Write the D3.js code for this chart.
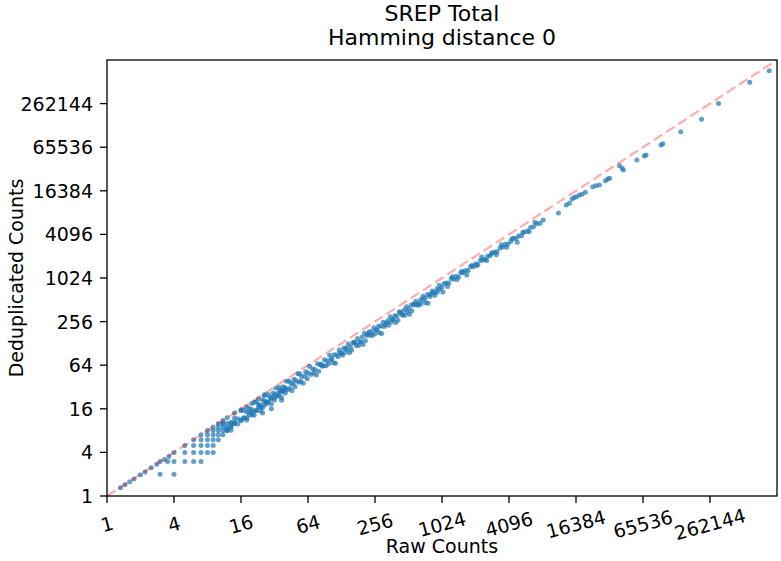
<!DOCTYPE html>
<html>
<head>
<meta charset="utf-8">
<script src="https://cdn.jsdelivr.net/npm/d3@7"></script>
<style>
body { margin: 0; background: #fff; }
text { font-family: "DejaVu Sans", sans-serif; fill: #000; }
</style>
</head>
<body>
<svg id="chart" width="781" height="561"></svg>
<script>
const titleLines = ["SREP Total", "Hamming distance 0"];
const xLabel = "Raw Counts";
const yLabel = "Deduplicated Counts";
const tickValues = [1, 4, 16, 64, 256, 1024, 4096, 16384, 65536, 262144];

// points sitting on the diagonal at the very low end
const lowRaw   = [1.32, 1.45, 1.6, 1.75, 2, 2.2, 2.5, 2.8, 3.3, 3.6];
const lowDedup = [1.3, 1.43, 1.57, 1.72, 1.97, 2.15, 2.45, 2.75, 3.2, 3.5];

// integer grid of small counts
const gridRaw   = [3, 4, 3, 3.5, 4, 5, 6, 7, 4, 5, 6, 7, 8, 9, 5, 6, 7, 8, 9, 6, 7, 8, 9, 10,
                   7, 8, 9, 10, 11, 8, 9, 10, 11, 12, 9, 10, 11, 12, 13, 10, 11, 12, 13, 14];
const gridDedup = [2, 2, 3, 3, 3, 3, 3, 3, 4, 4, 4, 4, 4, 4, 5, 5, 5, 5, 5, 6, 6, 6, 6, 6,
                   7, 7, 7, 7, 7, 8, 8, 8, 8, 8, 9, 9, 9, 9, 9, 10, 10, 10, 10, 10];

// dense band 11 - 68
const smallRaw   = [11, 12, 13, 13, 14, 14, 15, 15, 16, 16, 17, 17, 18, 18, 19, 19, 20, 20, 21, 21,
                    22, 22, 23, 24, 24, 25, 25, 26, 26, 27, 28, 28, 29, 30, 30, 31, 32, 32, 33, 34,
                    35, 35, 36, 37, 38, 38, 40, 40, 41, 42, 43, 44, 45, 46, 47, 48, 49, 50, 52, 53,
                    54, 55, 56, 58, 60, 61, 63, 64, 66, 68,
                    11, 12, 14, 16, 18, 20, 23, 26,
                    12, 13, 14, 16, 17, 18, 19, 20, 22, 23, 24, 26, 27, 28, 30, 32, 34, 36, 38, 40, 21, 25, 37, 30];
const smallDedup = [10, 8.4, 10.4, 8.1, 10.5, 11.9, 9.9, 11.7, 15, 11.2, 15.3, 11.9, 14.4, 11.2, 14.3, 16.2, 13.2, 15.6, 19.7, 14.7,
                    19.8, 15.4, 18.4, 14.9, 18, 21.3, 16.5, 20.3, 24.4, 18.9, 25.2, 19.6, 23.2, 18.6, 22.5, 26.4, 21.1, 25, 31, 23.8,
                    31.5, 24.5, 28.8, 22.9, 28.5, 32.3, 26.4, 31.2, 38.5, 29.4, 38.7, 30.8, 36, 28.5, 35.3, 40.8, 32.3, 39, 48.9, 37.1,
                    48.6, 38.5, 44.8, 36, 45, 51.9, 41.6, 49.9, 62, 47.6,
                    11, 12, 14, 15.5, 17, 19, 22, 25,
                    8, 9, 10, 11, 12, 12, 13, 14, 15, 17, 17, 18, 20, 20, 22, 23, 26, 27, 28, 30, 13, 14, 21, 16];

// band 70 - 1070
const bandRaw   = [70, 74, 78, 82, 86, 90, 95, 100, 105, 110, 116, 122, 128, 134, 140, 147, 154, 162, 170, 178,
                   187, 196, 206, 216, 227, 238, 250, 262, 275, 289, 303, 318, 334, 351, 368, 386, 405, 425, 446, 468,
                   491, 515, 541, 568, 596, 626, 657, 690, 724, 760, 798, 838, 880, 924, 970, 1020, 1070,
                   72, 80, 88, 98, 108, 119, 131, 144, 158, 174, 191, 210, 231, 254, 280, 308, 340, 374, 412, 453,
                   498, 548, 603, 663, 730, 803, 883, 972,
                   76, 84, 93, 103, 113, 125, 137, 151, 166, 182, 200, 220, 242, 267, 294, 324, 357, 393, 432, 475,
                   523, 575, 633, 696, 766, 843, 927, 1045];
const bandDedup = [57, 56, 67, 65, 62, 76, 74, 88, 79, 89, 89, 104, 93, 110, 111, 126, 114, 131, 131, 150,
                   135, 157, 177, 164, 186, 186, 210, 194, 220, 223, 251, 229, 264, 298, 276, 309, 308, 349, 326, 370,
                   412, 381, 433, 437, 489, 451, 512, 573, 543, 608, 606, 679, 642, 730, 815, 755, 856,
                   50, 53, 63, 67, 69, 84, 88, 105, 103, 120, 134, 139, 166, 173, 179, 219, 228, 273, 268, 313,
                   349, 362, 434, 451, 467, 570, 592, 710,
                   47, 66, 63, 76, 68, 95, 96, 95, 133, 120, 124, 172, 165, 198, 176, 246, 250, 248, 346, 314,
                   324, 449, 430, 515, 460, 641, 649, 658];

// 1120 - 8300
const midRaw   = [1120, 1180, 1240, 1300, 1370, 1440, 1510, 1590, 1670, 1760, 1850, 1950, 2050, 2150, 2260, 2380,
                  2500, 2630, 2770, 2900, 3050, 3200, 3400, 3600, 3800, 4000, 4250, 4500, 4750, 5000, 5300, 5600,
                  6000, 6400, 6800, 7300, 7800, 8300,
                  1150, 1270, 1400, 1550, 1710, 1900, 2100, 2330, 2580, 2850, 3150, 3500, 3900, 4350, 4850, 5450,
                  6200, 7000];
const midDedup = [874, 873, 1004, 988, 1082, 1051, 1208, 1208, 1303, 1302, 1480, 1463, 1599, 1570, 1785, 1809,
                  1850, 2051, 2078, 2291, 2349, 2368, 2652, 2736, 3002, 3000, 3273, 3600, 3610, 3900, 3922, 4424,
                  4560, 5120, 5236, 5767, 5850, 6474,
                  782, 1067, 980, 1271, 1129, 1520, 1512, 2004, 1780, 2223, 2142, 2940, 2730, 3567, 3201, 4360,
                  4464, 6020];

// sparse top end
const highRaw   = [11400, 13400, 14300, 15100, 15800, 16600, 17600, 18600, 19900, 23200, 24800, 26600, 30100, 31600,
                   32800, 40300, 42600, 43600, 57800, 67400, 69800, 95200, 98700, 143000, 220000, 313000, 597000, 893000];
const highDedup = [8100, 10400, 11000, 12600, 13200, 13600, 14300, 14700, 15600, 18700, 19200, 19700, 22600, 23800,
                   24400, 36400, 33500, 31700, 43600, 49600, 51100, 70200, 73200, 107000, 160000, 264000, 516000, 746000];

const rawCounts = [].concat(lowRaw, gridRaw, smallRaw, bandRaw, midRaw, highRaw);
const dedupCounts = [].concat(lowDedup, gridDedup, smallDedup, bandDedup, midDedup, highDedup);
const points = rawCounts.map((r, i) => ({raw: r, dedup: dedupCounts[i]}));

const svg = d3.select("#chart");
const pLeft = 107, pRight = 777, pTop = 60, pBottom = 496;

const x = d3.scaleLog().base(2).domain([1, Math.pow(2, 20)]).range([pLeft, pRight]);
const y = d3.scaleLog().base(2).domain([1, Math.pow(2, 20)]).range([pBottom, pTop]);

svg.append("clipPath").attr("id", "plotclip")
    .append("rect")
    .attr("x", pLeft).attr("y", pTop)
    .attr("width", pRight - pLeft).attr("height", pBottom - pTop);

const plot = svg.append("g").attr("clip-path", "url(#plotclip)");

plot.selectAll("circle")
    .data(points)
    .enter()
    .append("circle")
    .attr("cx", d => x(d.raw))
    .attr("cy", d => y(d.dedup))
    .attr("r", 2.5)
    .attr("fill", "#1f77b4")
    .attr("fill-opacity", 0.7);

// y = x reference
plot.append("line")
    .attr("x1", x(1)).attr("y1", y(1))
    .attr("x2", x(Math.pow(2, 20))).attr("y2", y(Math.pow(2, 20)))
    .attr("stroke", "red")
    .attr("stroke-opacity", 0.33)
    .attr("stroke-width", 2.2)
    .attr("stroke-dasharray", "10,4.5");

svg.append("rect")
    .attr("x", pLeft).attr("y", pTop)
    .attr("width", pRight - pLeft).attr("height", pBottom - pTop)
    .attr("fill", "none")
    .attr("stroke", "#000")
    .attr("stroke-width", 1.3);

// x axis
const xt = svg.append("g");
xt.selectAll("line")
    .data(tickValues)
    .enter()
    .append("line")
    .attr("x1", d => x(d)).attr("x2", d => x(d))
    .attr("y1", pBottom).attr("y2", pBottom + 7)
    .attr("stroke", "#000").attr("stroke-width", 1.3);
xt.selectAll("text")
    .data(tickValues)
    .enter()
    .append("text")
    .attr("transform", d => "translate(" + x(d) + "," + (pBottom + 28) + ") rotate(-15)")
    .attr("text-anchor", "middle")
    .attr("dominant-baseline", "central")
    .style("font-size", "19px")
    .text(d => d);

// y axis
const yt = svg.append("g");
yt.selectAll("line")
    .data(tickValues)
    .enter()
    .append("line")
    .attr("x1", pLeft - 7).attr("x2", pLeft)
    .attr("y1", d => y(d)).attr("y2", d => y(d))
    .attr("stroke", "#000").attr("stroke-width", 1.3);
yt.selectAll("text")
    .data(tickValues)
    .enter()
    .append("text")
    .attr("x", pLeft - 14)
    .attr("y", d => y(d))
    .attr("text-anchor", "end")
    .attr("dominant-baseline", "central")
    .style("font-size", "19px")
    .text(d => d);

svg.append("text")
    .attr("x", (pLeft + pRight) / 2)
    .attr("y", 553)
    .attr("text-anchor", "middle")
    .style("font-size", "19px")
    .text(xLabel);

svg.append("text")
    .attr("transform", "translate(23," + ((pTop + pBottom) / 2) + ") rotate(-90)")
    .attr("text-anchor", "middle")
    .style("font-size", "19px")
    .text(yLabel);

svg.selectAll(".title")
    .data(titleLines)
    .enter()
    .append("text")
    .attr("class", "title")
    .attr("x", (pLeft + pRight) / 2)
    .attr("y", (d, i) => 21 + i * 24)
    .attr("text-anchor", "middle")
    .style("font-size", "22px")
    .text(d => d);
</script>
</body>
</html>
